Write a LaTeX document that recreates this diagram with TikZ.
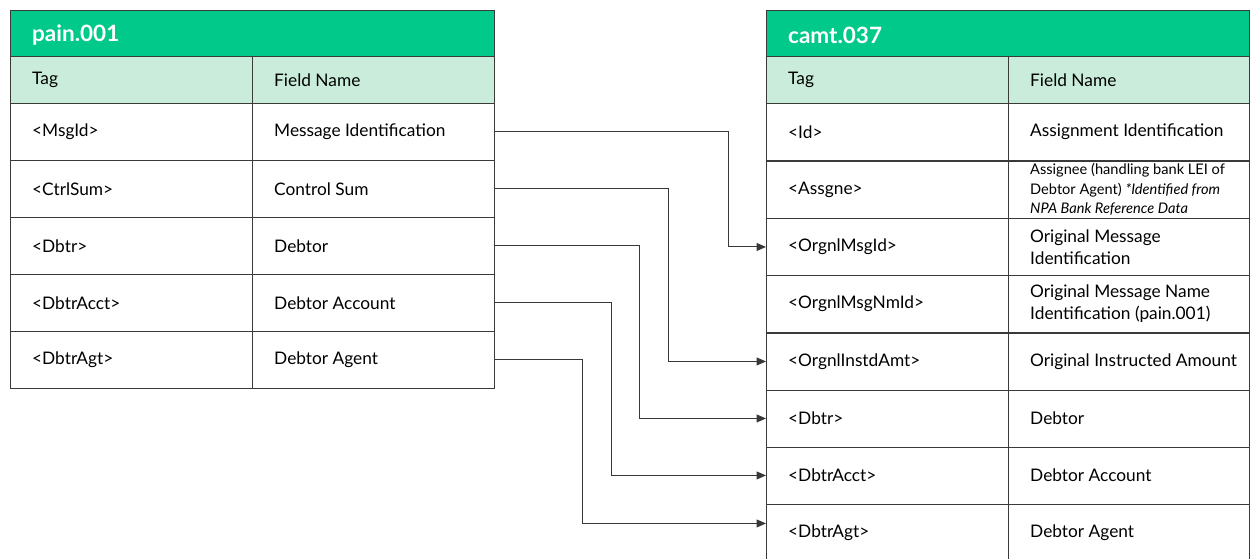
\documentclass[tikz,border=0pt]{standalone}
\usepackage{fontspec}
\setmainfont{Lato}
\usetikzlibrary{arrows.meta,calc}
\definecolor{hdrgreen}{HTML}{00C98A}
\definecolor{subgreen}{HTML}{C9ECDB}
\definecolor{gridline}{HTML}{3A3A3A}
\definecolor{connline}{HTML}{383838}
\begin{document}
\begin{tikzpicture}[x=1pt,y=-1pt,
  cellbox/.style={draw=gridline,line width=0.9pt,anchor=north west,inner sep=0pt,minimum height=57pt},
  subbox/.style={cellbox,fill=subgreen,minimum height=47pt},
  hdrbox/.style={cellbox,fill=hdrgreen,minimum height=46pt},
  celltext/.style={anchor=west,inner sep=0pt,align=left,font=\fontsize{17.3}{22}\selectfont,text=black,xshift=22pt},
  smalltext/.style={celltext,font=\fontsize{14.6}{19.5}\selectfont},
  hdrtext/.style={celltext,font=\fontsize{22.5}{26}\selectfont\bfseries,text=white,yshift=-1.5pt},
  conn/.style={draw=connline,line width=1pt,-{Triangle[length=9.5pt,width=8pt]}}]
\useasboundingbox (0,0) rectangle (1250,558);

% ---------- left table: pain.001 ----------
\node[hdrbox,minimum width=484pt] (lh) at (10,10) {};
\node[hdrtext] (lht) at (lh.west) {pain.001};
\node[subbox,minimum width=242pt] (lst) at (10,56) {};
\node[subbox,minimum width=242pt] (lsf) at (252,56) {};
\node[celltext] (lstt) at (lst.west) {Tag};
\node[celltext] (lsft) at (lsf.west) {Field Name};
\foreach \n/\y/\tg/\fn in {1/103/{<MsgId>}/{Message Identification},
                           2/160/{<CtrlSum>}/{Control Sum},
                           3/217/{<Dbtr>}/{Debtor},
                           4/274/{<DbtrAcct>}/{Debtor Account},
                           5/331/{<DbtrAgt>}/{Debtor Agent}}{
  \node[cellbox,minimum width=242pt] (l\n t) at (10,\y) {};
  \node[cellbox,minimum width=242pt] (l\n f) at (252,\y) {};
  \node[celltext] (l\n tt) at (l\n t.west) {\tg};
  \node[celltext] (l\n ft) at (l\n f.west) {\fn};
}

% ---------- right table: camt.037 ----------
\node[hdrbox,minimum width=483pt] (rh) at (766,10) {};
\node[hdrtext] (rht) at (rh.west) {camt.037};
\node[subbox,minimum width=242pt] (rst) at (766,56) {};
\node[subbox,minimum width=241pt] (rsf) at (1008,56) {};
\node[celltext] (rstt) at (rst.west) {Tag};
\node[celltext] (rsft) at (rsf.west) {Field Name};
\foreach \n/\y/\tg/\fn in {1/103/{<Id>}/{Assignment Identification},
                           3/218/{<OrgnlMsgId>}/{Original Message\\Identification},
                           4/275/{<OrgnlMsgNmId>}/{Original Message Name\\Identification (pain.001)},
                           5/332.5/{<OrgnlInstdAmt>}/{Original Instructed Amount},
                           6/389.5/{<Dbtr>}/{Debtor},
                           7/446.5/{<DbtrAcct>}/{Debtor Account},
                           8/503.5/{<DbtrAgt>}/{Debtor Agent}}{
  \node[cellbox,minimum width=242pt] (r\n t) at (766,\y) {};
  \node[cellbox,minimum width=241pt] (r\n f) at (1008,\y) {};
  \node[celltext] (r\n tt) at (r\n t.west) {\tg};
  \node[celltext] (r\n ft) at (r\n f.west) {\fn};
}
\node[cellbox,minimum width=242pt] (r2t) at (766,160.5) {};
\node[cellbox,minimum width=241pt] (r2f) at (1008,160.5) {};
\node[celltext] (r2tt) at (r2t.west) {<Assgne>};
\node[smalltext] (r2ft) at (r2f.west) {Assignee (handling bank LEI of\\Debtor Agent) \textit{*Identified from}\\\textit{NPA Bank Reference Data}};

% ---------- connectors ----------
\coordinate (c1) at (728,0);
\coordinate (c2) at (668,0);
\coordinate (c3) at (639,0);
\coordinate (c4) at (611,0);
\coordinate (c5) at (582,0);
\draw[conn] (l1f.east) -- (l1f.east -| c1) |- (r3t.west);
\draw[conn] (l2f.east) -- (l2f.east -| c2) |- (r5t.west);
\draw[conn] (l3f.east) -- (l3f.east -| c3) |- (r6t.west);
\draw[conn] (l4f.east) -- (l4f.east -| c4) |- (r7t.west);
\draw[conn] (l5f.east) -- (l5f.east -| c5) |- ([yshift=9pt]r8t.west);
\end{tikzpicture}
\end{document}
